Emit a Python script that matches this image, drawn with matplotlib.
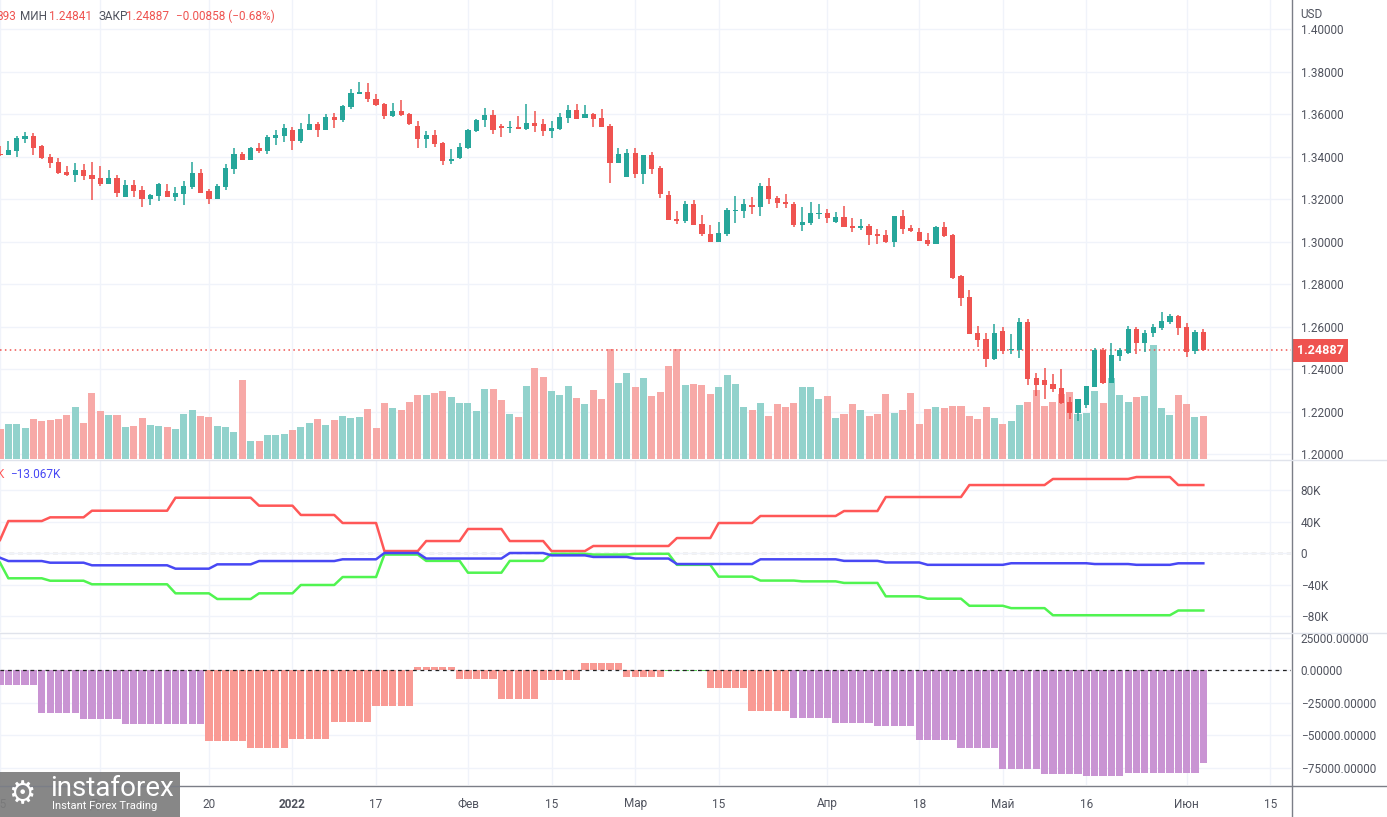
import numpy as np
import matplotlib.pyplot as plt
from matplotlib.lines import Line2D
from matplotlib.patches import Rectangle

plt.rcParams['font.family'] = ['Roboto', 'DejaVu Sans']

# daily GBP/USD bars, 15 Nov 2021 .. 3 Jun 2022
opens = [1.3413, 1.3410, 1.3427, 1.3486, 1.3498, 1.3451, 1.3399, 1.3376, 1.3329, 1.3316,
         1.3338, 1.3313, 1.3300, 1.3274, 1.3300, 1.3213, 1.3267, 1.3242, 1.3203, 1.3217,
         1.3239, 1.3213, 1.3227, 1.3260, 1.3324, 1.3239, 1.3203, 1.3260, 1.3344, 1.3413,
         1.3385, 1.3442, 1.3427, 1.3489, 1.3498, 1.3526, 1.3475, 1.3526, 1.3555, 1.3526,
         1.3587, 1.3573, 1.3635, 1.3697, 1.3705, 1.3672, 1.3649, 1.3592, 1.3616, 1.3602,
         1.3545, 1.3484, 1.3503, 1.3465, 1.3380, 1.3395, 1.3442, 1.3522, 1.3575, 1.3597,
         1.3545, 1.3537, 1.3540, 1.3531, 1.3559, 1.3555, 1.3523, 1.3531, 1.3583, 1.3620,
         1.3583, 1.3602, 1.3583, 1.3545, 1.3373, 1.3307, 1.3418, 1.3321, 1.3409, 1.3347,
         1.3220, 1.3109, 1.3100, 1.3178, 1.3084, 1.3037, 1.3001, 1.3038, 1.3147, 1.3147,
         1.3175, 1.3165, 1.3263, 1.3206, 1.3187, 1.3178, 1.3081, 1.3090, 1.3133, 1.3136,
         1.3095, 1.3117, 1.3076, 1.3067, 1.3075, 1.3038, 1.3032, 1.2999, 1.3122, 1.3065,
         1.3046, 1.3009, 1.2991, 1.3070, 1.3032, 1.2839, 1.2740, 1.2570, 1.2542, 1.2449,
         1.2580, 1.2489, 1.2492, 1.2622, 1.2358, 1.2349, 1.2330, 1.2311, 1.2245, 1.2195,
         1.2233, 1.2318, 1.2490, 1.2336, 1.2464, 1.2476, 1.2589, 1.2525, 1.2572, 1.2595,
         1.2624, 1.2650, 1.2598, 1.2487, 1.25745]
highs = [1.3451, 1.3475, 1.3498, 1.3517, 1.3512, 1.3456, 1.3413, 1.3393, 1.3355, 1.3371,
         1.3365, 1.3376, 1.3357, 1.3338, 1.3313, 1.3291, 1.3291, 1.3263, 1.3225, 1.3275,
         1.3272, 1.3258, 1.3286, 1.3376, 1.3343, 1.3250, 1.3272, 1.3366, 1.3442, 1.3423,
         1.3445, 1.3465, 1.3503, 1.3526, 1.3555, 1.3540, 1.3559, 1.3602, 1.3564, 1.3602,
         1.3606, 1.3644, 1.3719, 1.3752, 1.3747, 1.3696, 1.3653, 1.3653, 1.3667, 1.3606,
         1.3569, 1.3522, 1.3526, 1.3470, 1.3437, 1.3465, 1.3531, 1.3578, 1.3630, 1.3620,
         1.3555, 1.3569, 1.3592, 1.3649, 1.3616, 1.3578, 1.3569, 1.3606, 1.3644, 1.3649,
         1.3644, 1.3606, 1.3625, 1.3555, 1.3442, 1.3437, 1.3442, 1.3409, 1.3423, 1.3357,
         1.3239, 1.3145, 1.3192, 1.3197, 1.3126, 1.3079, 1.3093, 1.3159, 1.3216, 1.3202,
         1.3211, 1.3277, 1.3300, 1.3216, 1.3225, 1.3187, 1.3164, 1.3187, 1.3180, 1.3155,
         1.3140, 1.3169, 1.3112, 1.3107, 1.3084, 1.3060, 1.3056, 1.3122, 1.3150, 1.3079,
         1.3065, 1.3042, 1.3075, 1.3093, 1.3037, 1.2844, 1.2773, 1.2603, 1.2570, 1.2613,
         1.2598, 1.2565, 1.2641, 1.2636, 1.2382, 1.2405, 1.2377, 1.2401, 1.2271, 1.2260,
         1.2321, 1.2500, 1.2500, 1.2523, 1.2500, 1.2603, 1.2598, 1.2587, 1.2613, 1.2669,
         1.2660, 1.2655, 1.2617, 1.2587, 1.25893]
lows = [1.3405, 1.3409, 1.3401, 1.3467, 1.3410, 1.3391, 1.3349, 1.3321, 1.3311, 1.3283,
        1.3293, 1.3198, 1.3264, 1.3271, 1.3213, 1.3211, 1.3213, 1.3166, 1.3175, 1.3194,
        1.3211, 1.3194, 1.3175, 1.3247, 1.3230, 1.3180, 1.3202, 1.3245, 1.3321, 1.3385,
        1.3385, 1.3420, 1.3415, 1.3456, 1.3470, 1.3432, 1.3465, 1.3525, 1.3493, 1.3525,
        1.3536, 1.3564, 1.3625, 1.3697, 1.3658, 1.3639, 1.3578, 1.3587, 1.3592, 1.3550,
        1.3442, 1.3442, 1.3446, 1.3362, 1.3366, 1.3390, 1.3437, 1.3517, 1.3542, 1.3509,
        1.3495, 1.3514, 1.3531, 1.3528, 1.3518, 1.3500, 1.3490, 1.3528, 1.3561, 1.3578,
        1.3583, 1.3542, 1.3540, 1.3278, 1.3371, 1.3305, 1.3302, 1.3274, 1.3321, 1.3208,
        1.3103, 1.3085, 1.3090, 1.3079, 1.3029, 1.2999, 1.2999, 1.3029, 1.3090, 1.3114,
        1.3133, 1.3123, 1.3180, 1.3161, 1.3161, 1.3071, 1.3053, 1.3081, 1.3109, 1.3090,
        1.3090, 1.3070, 1.3046, 1.3057, 1.2987, 1.2991, 1.2995, 1.2977, 1.3038, 1.3046,
        1.3004, 1.2982, 1.2990, 1.3024, 1.2827, 1.2700, 1.2565, 1.2506, 1.2412, 1.2445,
        1.2473, 1.2473, 1.2454, 1.2327, 1.2275, 1.2261, 1.2294, 1.2238, 1.2167, 1.2158,
        1.2219, 1.2316, 1.2332, 1.2335, 1.2440, 1.2473, 1.2473, 1.2482, 1.2553, 1.2586,
        1.2614, 1.2562, 1.2459, 1.2473, 1.24841]
closes = [1.3407, 1.3432, 1.3489, 1.3498, 1.3443, 1.3395, 1.3373, 1.3324, 1.3315, 1.3338,
          1.3311, 1.3297, 1.3274, 1.3300, 1.3231, 1.3267, 1.3241, 1.3203, 1.3220, 1.3272,
          1.3213, 1.3230, 1.3263, 1.3324, 1.3231, 1.3203, 1.3263, 1.3347, 1.3413, 1.3387,
          1.3440, 1.3427, 1.3493, 1.3503, 1.3536, 1.3475, 1.3531, 1.3555, 1.3526, 1.3587,
          1.3573, 1.3639, 1.3700, 1.3705, 1.3672, 1.3644, 1.3592, 1.3616, 1.3597, 1.3555,
          1.3484, 1.3503, 1.3460, 1.3380, 1.3390, 1.3446, 1.3526, 1.3573, 1.3597, 1.3528,
          1.3537, 1.3540, 1.3533, 1.3559, 1.3547, 1.3523, 1.3536, 1.3587, 1.3620, 1.3580,
          1.3602, 1.3580, 1.3542, 1.3373, 1.3413, 1.3418, 1.3321, 1.3409, 1.3344, 1.3227,
          1.3104, 1.3100, 1.3178, 1.3081, 1.3038, 1.3001, 1.3042, 1.3150, 1.3151, 1.3178,
          1.3165, 1.3263, 1.3203, 1.3184, 1.3180, 1.3081, 1.3093, 1.3136, 1.3137, 1.3114,
          1.3117, 1.3071, 1.3067, 1.3075, 1.3034, 1.3029, 1.2999, 1.3122, 1.3060, 1.3051,
          1.3005, 1.2991, 1.3070, 1.3029, 1.2831, 1.2737, 1.2567, 1.2539, 1.2449, 1.2570,
          1.2487, 1.2495, 1.2622, 1.2355, 1.2327, 1.2327, 1.2308, 1.2242, 1.2195, 1.2260,
          1.2321, 1.2490, 1.2335, 1.2467, 1.2490, 1.2589, 1.2525, 1.2573, 1.2598, 1.2627,
          1.2650, 1.2595, 1.2482, 1.25745, 1.24887]
# tick volume, thousands
volumes = [30, 35, 35, 31, 40, 38, 39, 40, 44, 52, 36, 66, 48, 44, 44, 32, 33, 41, 34, 33,
           32, 30, 45, 49, 43, 42, 33, 32, 27, 79, 18, 18, 24, 24, 25, 29, 32, 36, 40, 34,
           39, 43, 41, 42, 50, 31, 56, 51, 49, 57, 64, 64, 66, 68, 62, 56, 56, 48, 70, 70,
           59, 45, 42, 73, 91, 82, 68, 64, 73, 61, 55, 69, 60, 110, 76, 86, 72, 81, 63, 67,
           93, 110, 74, 75, 74, 65, 72, 84, 75, 52, 49, 56, 43, 55, 52, 56, 72, 72, 60, 63,
           41, 45, 55, 49, 43, 45, 65, 46, 49, 66, 35, 50, 52, 51, 53, 53, 43, 40, 52, 41,
           35, 38, 54, 57, 69, 53, 57, 65, 67, 45, 46, 68, 56, 81, 64, 57, 62, 63, 114, 51,
           44, 64, 55, 42, 43]

# COT net positions (thousands), one value per report week (new value from Tuesday)
cot_red = [16.5, 40.6, 45.3, 53.7, 53.7, 70.2, 70.2, 60.1, 48.3, 38.1,
           2.5, 15.2, 30.5, 15.2, 2.5, 8.9, 8.9, 19.0, 38.1, 47.0,
           47.0, 53.3, 71.1, 71.1, 86.3, 86.3, 94.0, 94.0, 96.5, 86.3]
cot_blue = [-6.0, -10.2, -12.3, -15.6, -15.6, -19.9, -14.4, -10.2, -10.2, -8.0,
            0.0, -7.0, -7.0, 0.0, -3.0, -5.0, -7.0, -14.0, -14.0, -8.0,
            -8.0, -10.0, -12.0, -15.0, -15.0, -13.0, -13.0, -14.0, -15.0, -13.067]
cot_green = [-12.3, -32.1, -35.2, -39.7, -39.7, -51.2, -58.4, -51.2, -40.6, -30.5,
             -2.0, -10.0, -25.0, -10.0, -1.0, -2.0, -1.0, -15.0, -30.0, -35.0,
             -36.0, -38.0, -55.0, -58.0, -67.0, -70.0, -79.0, -79.0, -79.0, -73.0]

# histogram (thousands), one value per Mon-Fri week, plus the last day's update
hist_vals = [-11.5, -32.7, -37.0, -41.0, -41.0, -54.0, -60.0, -52.7, -39.6, -27.3,
             2.7, -6.5, -22.0, -7.3, 5.8, -5.0, -0.5, -13.5, -31.0, -36.5,
             -40.4, -42.7, -53.5, -59.6, -75.7, -80.0, -81.0, -79.0, -79.0]
hist_kind = ['p', 'p', 'p', 'p', 'p', 's', 's', 's', 's', 's',
             's', 's', 's', 's', 's', 's', 'g', 's', 's', 'p',
             'p', 'p', 'p', 'p', 'p', 'p', 'p', 'p', 'p']
hist_last = -71.0

date_ticks = [0, 12, 25, 35, 45, 56, 66, 76, 86, 99, 110, 120, 130, 142, 152]
date_labels = ['15', 'Дек', '20', '2022', '17', 'Фев', '15', 'Мар', '15', 'Апр',
               '18', 'Май', '16', 'Июн', '15']
price_ticks = [1.20, 1.22, 1.24, 1.26, 1.28, 1.30, 1.32, 1.34, 1.36, 1.38, 1.40]
cot_ticks = [80, 40, 0, -40, -80]
cot_tick_labels = ['80K', '40K', '0', '−40K', '−80K']
hist_ticks = [25000, 0, -25000, -50000, -75000]
last_close = 1.24887

UP, DOWN = '#26a69a', '#ef5350'
UP_VOL, DOWN_VOL = '#92d2cc', '#f7a9a7'
GRID = '#f0f3fa'
TXT = '#50535e'
HIST_COLORS = {'p': '#c994d3', 's': '#f99a94', 'g': '#5fd35f'}

W, H = 1387, 817
fig = plt.figure(figsize=(W / 100, H / 100), dpi=100)


def rect(x0, y0, x1, y1):
    return [x0 / W, 1 - y1 / H, (x1 - x0) / W, (y1 - y0) / H]


o = np.array(opens)
hi = np.array(highs)
lo = np.array(lows)
c = np.array(closes)
n = len(c)
idx = np.arange(n)
up = c >= o
xlim = (0, 154.49)

ax_vol = fig.add_axes(rect(0, 0, 1291, 459))
ax = fig.add_axes(rect(0, 0, 1291, 459))
ax_mid = fig.add_axes(rect(0, 460, 1291, 632))
ax_bot = fig.add_axes(rect(0, 633, 1291, 785))

for a in (ax_vol, ax, ax_mid, ax_bot):
    a.set_xlim(*xlim)
    for s in a.spines.values():
        s.set_visible(False)
    a.set_xticks(date_ticks)
    a.tick_params(axis='x', length=0, labelbottom=False)
ax.patch.set_visible(False)

# volume overlay
ax_vol.bar(idx, volumes, width=0.84, color=np.where(up, UP_VOL, DOWN_VOL))
ax_vol.set_ylim(0, 459)
ax_vol.set_yticks([])
ax_vol.grid(axis='x', color=GRID, lw=1)
ax_vol.set_axisbelow(True)

# candles
col = np.where(up, UP, DOWN)
ax.vlines(idx, lo, hi, colors=col, lw=1.1, zorder=3)
body = np.maximum(np.abs(c - o), 0.00008)
ax.bar(idx, body, bottom=np.minimum(o, c), width=0.62, color=col, zorder=4)
ax.set_ylim(1.19778, 1.41379)
ax.axhline(last_close, color=DOWN, lw=1.1, ls=(0, (1, 2.2)), zorder=2)
ax.yaxis.tick_right()
ax.set_yticks(price_ticks)
ax.set_yticklabels([f'{p:.5f}' for p in price_ticks])
ax.tick_params(axis='y', length=0, pad=7, labelsize=8.5, labelcolor=TXT)
for p in price_ticks:
    ax_vol.axhline((p - 1.19778) / (1.41379 - 1.19778) * 459, color=GRID, lw=1, zorder=0)
ax.annotate(f'{last_close:.5f}', xy=(1.0, last_close), xycoords=('axes fraction', 'data'),
            xytext=(4, 0), textcoords='offset points', ha='left', va='center',
            fontsize=9, fontweight='bold', color='white', annotation_clip=False,
            bbox=dict(boxstyle='square,pad=0.38', fc=DOWN, ec='none'))

# COT lines
week = (idx + 4) // 5
ax_mid.plot(idx, np.array(cot_red)[week] * 1000, color='#ff5757', lw=1.8)
ax_mid.plot(idx, np.array(cot_green)[week] * 1000, color='#50f450', lw=1.8)
ax_mid.plot(idx, np.array(cot_blue)[week] * 1000, color='#4848f4', lw=1.8)
ax_mid.axhline(0, color='#8a8a8a', lw=0.9, ls=(0, (4, 3)), zorder=0)
ax_mid.set_ylim(-100300, 118100)
ax_mid.yaxis.tick_right()
ax_mid.set_yticks([v * 1000 for v in cot_ticks])
ax_mid.set_yticklabels(cot_tick_labels)
ax_mid.tick_params(axis='y', length=0, pad=7, labelsize=8.5, labelcolor=TXT)
ax_mid.grid(color=GRID, lw=1)
ax_mid.set_axisbelow(True)

# histogram
hweek = np.minimum(idx // 5, len(hist_vals) - 1)
hv = np.array(hist_vals)[hweek] * 1000
hv[-1] = hist_last * 1000
hc = [HIST_COLORS[hist_kind[w]] for w in hweek]
ax_bot.bar(idx, hv, width=0.86, color=hc)
ax_bot.axhline(0, color='#222222', lw=0.9, ls=(0, (3, 3)))
ax_bot.set_ylim(-88100, 28800)
ax_bot.yaxis.tick_right()
ax_bot.set_yticks(hist_ticks)
ax_bot.set_yticklabels([f'{v:.5f}'.replace('-', '−') for v in hist_ticks])
ax_bot.tick_params(axis='y', length=0, pad=7, labelsize=8.5, labelcolor=TXT)
ax_bot.grid(color=GRID, lw=1)
ax_bot.set_axisbelow(True)
ax_bot.set_xticklabels(date_labels)
ax_bot.tick_params(axis='x', labelbottom=True, pad=9, labelsize=8.5, labelcolor=TXT)
ax_bot.get_xticklabels()[3].set_fontweight('bold')

# frame lines
fig.add_artist(Line2D([1291.5 / W] * 2, [0, 1], color='#7b7e87', lw=1))
fig.add_artist(Line2D([0, 1], [1 - 785.5 / H] * 2, color='#7b7e87', lw=1))
for y in (459.5, 632.5):
    fig.add_artist(Line2D([0, 1], [1 - y / H] * 2, color='#e0e3eb', lw=1))


def ftext(x, y, s, **kw):
    fig.text(x / W, 1 - y / H, s, va='center', fontsize=8.5, **kw)


ftext(1300, 14, 'USD', color=TXT)
ftext(16.5, 16, '893', color=DOWN, ha='right')
ftext(20, 16, 'МИН', color=TXT)
ftext(49, 16, '1.24841', color=DOWN)
ftext(99, 16, 'ЗАКР', color=TXT)
ftext(126, 16, '1.24887', color=DOWN)
ftext(176, 16, '−0.00858 (−0.68%)', color=DOWN)
ftext(4.5, 474, 'K', color='#ff5757', ha='right')
ftext(10, 474, '−13.067K', color='#4848f4')

# logo
fig.add_artist(Rectangle((0, 0), 180 / W, 45 / H, transform=fig.transFigure,
                         fc='#7d7d7d', ec='none', alpha=0.92))
fig.text(8 / W, 1 - 795 / H, '⚙', fontsize=22, color='white', va='center',
         family=['DejaVu Sans'])
fig.text(50 / W, 1 - 789 / H, 'instaforex', fontsize=20, color='white', va='center')
fig.text(52 / W, 1 - 806 / H, 'Instant Forex Trading', fontsize=8, color='white',
         va='center')

fig.savefig('out.png', dpi=100)
